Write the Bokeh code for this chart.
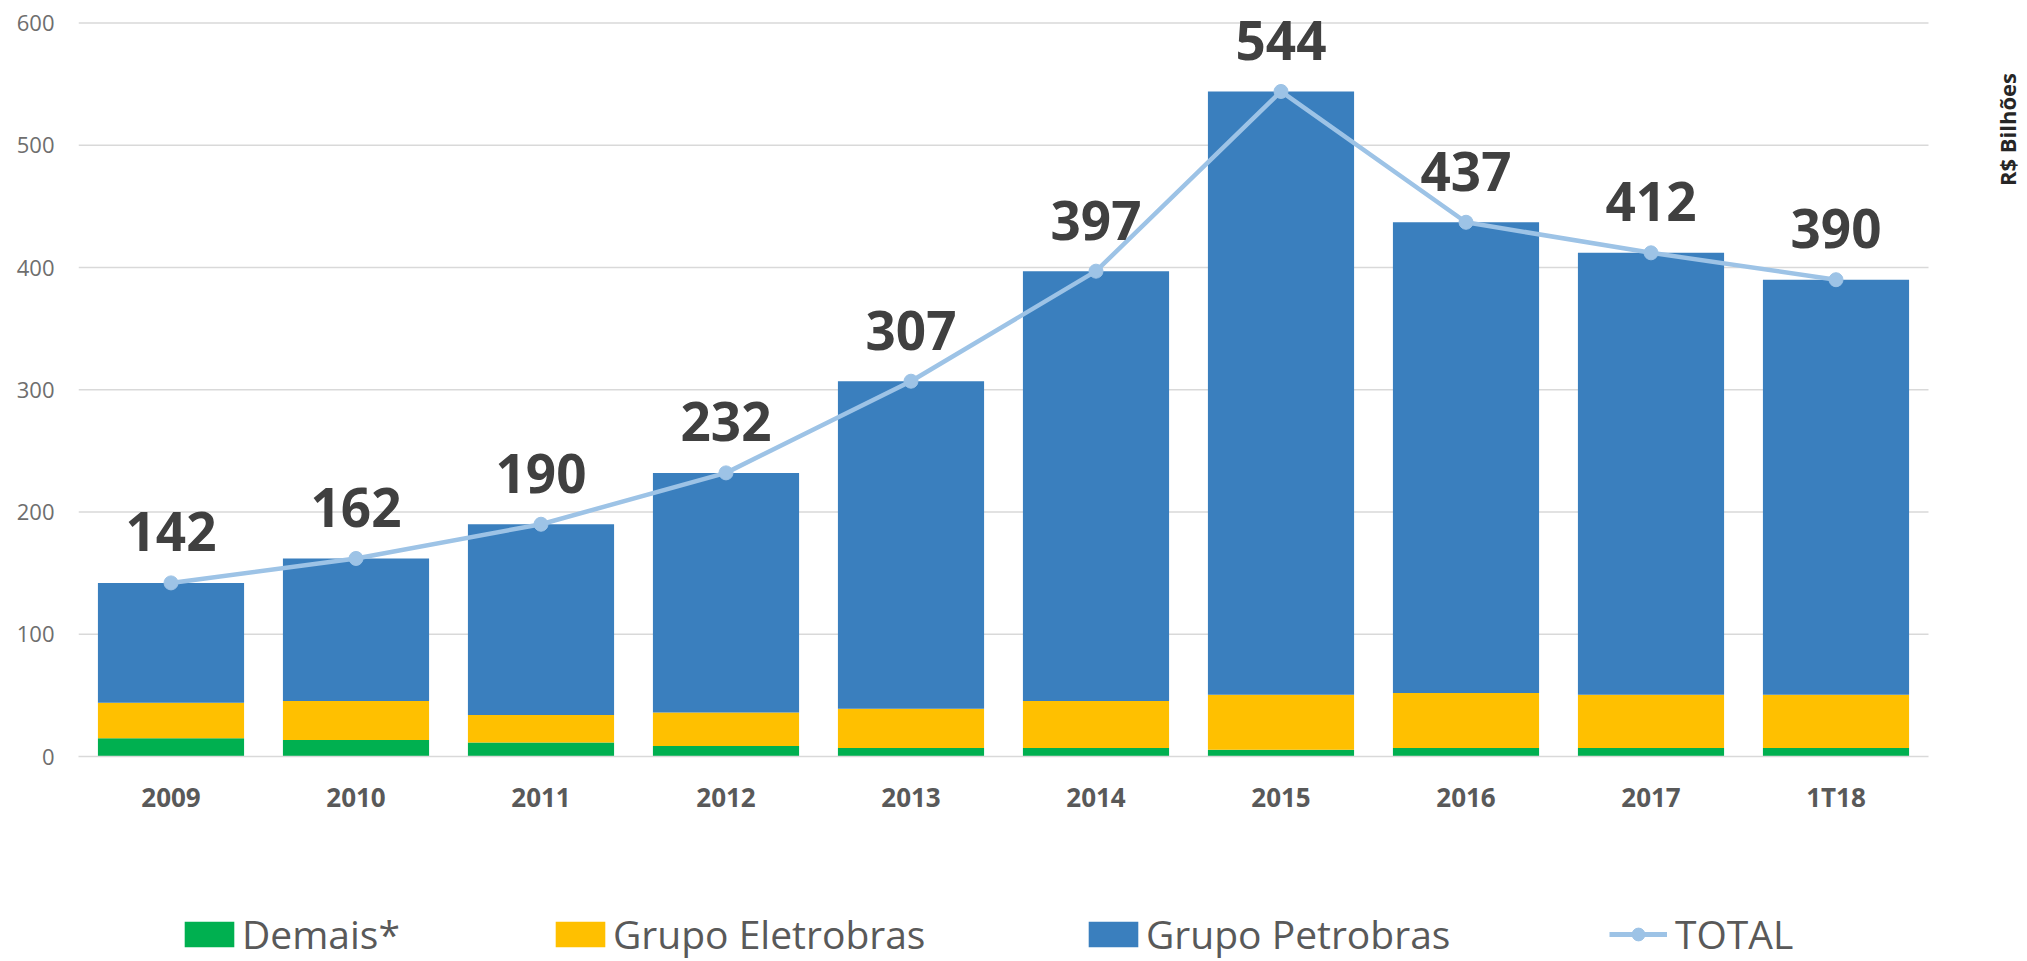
import math
from bokeh.plotting import figure
from bokeh.layouts import column
from bokeh.models import (Range1d, FixedTicker, Legend, LegendItem,
                          ColumnDataSource, Label)
from bokeh.core.properties import value
from bokeh.embed import file_html
from bokeh.resources import INLINE

# ---------------- data ----------------
categories = ["2009", "2010", "2011", "2012", "2013", "2014", "2015", "2016", "2017", "1T18"]
demais = [15, 13.5, 11.5, 8.5, 7, 7, 5.5, 7, 7, 7]
eletrobras = [29, 32, 22.5, 27.5, 32, 38.5, 45, 45, 43.5, 43.5]
petrobras = [98, 116.5, 156, 196, 268, 351.5, 493.5, 385, 361.5, 339.5]
total = [142, 162, 190, 232, 307, 397, 544, 437, 412, 390]
y_ticks = [0, 100, 200, 300, 400, 500, 600]

series_names = ["Demais*", "Grupo Eletrobras", "Grupo Petrobras", "TOTAL"]
colors = ["#00b050", "#ffc000", "#3a7fbe"]
line_color = "#9dc3e6"
FONT = "Open Sans"

# ---------------- layout constants (pixels) ----------------
W = 2027
H_MAIN = 830
H_LEG = 961 - H_MAIN
FRAME_LEFT = 78          # x of the plot area left edge
PX_PER_CAT = 185         # width of one category slot
ZERO_Y = 756             # y of value 0 (frame bottom)
TOP_Y = 22.5             # y of value 600

n = len(categories)
x_pos = [i + 0.5 for i in range(n)]
x_end = (W - FRAME_LEFT) / PX_PER_CAT
y_end = y_ticks[-1] * ZERO_Y / (ZERO_Y - TOP_Y)

source = ColumnDataSource(dict(
    x=x_pos, demais=demais, eletrobras=eletrobras, petrobras=petrobras,
    total=total, label=[str(v) for v in total],
))

p = figure(x_range=Range1d(0, x_end), y_range=Range1d(0, y_end),
           width=W, height=H_MAIN, output_backend="svg", toolbar_location=None,
           min_border_left=FRAME_LEFT, min_border_right=0, min_border_top=0,
           min_border_bottom=H_MAIN - ZERO_Y)
p.outline_line_color = None
p.xgrid.grid_line_color = None
p.ygrid.grid_line_color = None

# horizontal gridlines spanning only the category area
grid_src = ColumnDataSource(dict(y=y_ticks[1:]))
p.segment(x0=0, x1=n, y0="y", y1="y", source=grid_src, line_color="#d9d9d9",
          line_width=1.5, level="underlay")

bars = p.vbar_stack(["demais", "eletrobras", "petrobras"], x="x", width=0.79,
                    color=colors, line_color=None, source=source)

p.line(x="x", y="total", source=source, line_color=line_color, line_width=4.5)
p.scatter(x="x", y="total", source=source, size=14, fill_color=line_color,
          line_color=line_color)

p.text(x="x", y="total", text="label", source=source, text_align="center",
       text_baseline="middle", y_offset=-51, text_font=value(FONT),
       text_font_size="53px", text_font_style="bold", text_color="#404040")

# axes
p.yaxis.ticker = FixedTicker(ticks=y_ticks)
p.yaxis.axis_line_color = None
p.yaxis.major_tick_out = 0
p.yaxis.major_tick_in = 0
p.yaxis.minor_tick_out = 0
p.yaxis.minor_tick_in = 0
p.yaxis.major_label_standoff = 24
p.yaxis.major_label_text_font = FONT
p.yaxis.major_label_text_font_size = "22px"
p.yaxis.major_label_text_color = "#6e6e6e"

p.xaxis.ticker = FixedTicker(ticks=x_pos)
p.xaxis.major_label_overrides = {xp: c for xp, c in zip(x_pos, categories)}
p.xaxis.bounds = (0, n)
p.xaxis.axis_line_color = "#d9d9d9"
p.xaxis.axis_line_width = 1.5
p.xaxis.major_tick_out = 0
p.xaxis.major_tick_in = 0
p.xaxis.minor_tick_out = 0
p.xaxis.minor_tick_in = 0
p.xaxis.major_label_standoff = 22
p.xaxis.major_label_text_font = FONT
p.xaxis.major_label_text_font_size = "26px"
p.xaxis.major_label_text_font_style = "bold"
p.xaxis.major_label_text_color = "#595959"

# unit label on the right
p.add_layout(Label(x=2006 - FRAME_LEFT, y=ZERO_Y - 129, x_units="screen", y_units="screen",
                   text="R$ Bilhões", angle=math.pi / 2, text_align="center",
                   text_baseline="middle", text_font=FONT, text_font_size="22px",
                   text_font_style="bold", text_color="#262626"))

# ---------------- legend strip ----------------
lf = figure(width=W, height=H_LEG, x_range=Range1d(0, 1), y_range=Range1d(0, 1),
            output_backend="svg", toolbar_location=None, min_border=0,
            min_border_left=FRAME_LEFT, x_axis_location=None, y_axis_location=None)
lf.outline_line_color = None
lf.grid.visible = False

# legend-only renderers: a single point placed outside the visible range
dummy = ColumnDataSource(dict(x=[-10], y=[0]))
leg_bars = [lf.vbar(x="x", top="y", width=1, color=c, line_color=None, source=dummy)
            for c in colors]
leg_line = lf.line(x="x", y="y", source=dummy, line_color=line_color, line_width=5)
leg_dot = lf.scatter(x="x", y="y", source=dummy, size=14, fill_color=line_color,
                     line_color=line_color)


def make_legend(item, x_px, glyph_width=62, standoff=2):
    lg = Legend(items=[item], location=(x_px - FRAME_LEFT, 1), orientation="horizontal",
                glyph_width=glyph_width, glyph_height=32, label_height=48,
                label_standoff=standoff, padding=0, margin=0, spacing=0,
                border_line_color=None, background_fill_alpha=0,
                label_text_font=FONT, label_text_font_size="39px",
                label_text_color="#595959")
    lf.add_layout(lg, "center")


make_legend(LegendItem(label=series_names[0], renderers=[leg_bars[0]]), 178)
make_legend(LegendItem(label=series_names[1], renderers=[leg_bars[1]]), 549)
make_legend(LegendItem(label=series_names[2], renderers=[leg_bars[2]]), 1082)
make_legend(LegendItem(label=series_names[3], renderers=[leg_line, leg_dot]), 1609,
            glyph_width=58, standoff=8)

layout = column(p, lf, spacing=0)
open("out.html", "w").write(file_html(layout, INLINE))
